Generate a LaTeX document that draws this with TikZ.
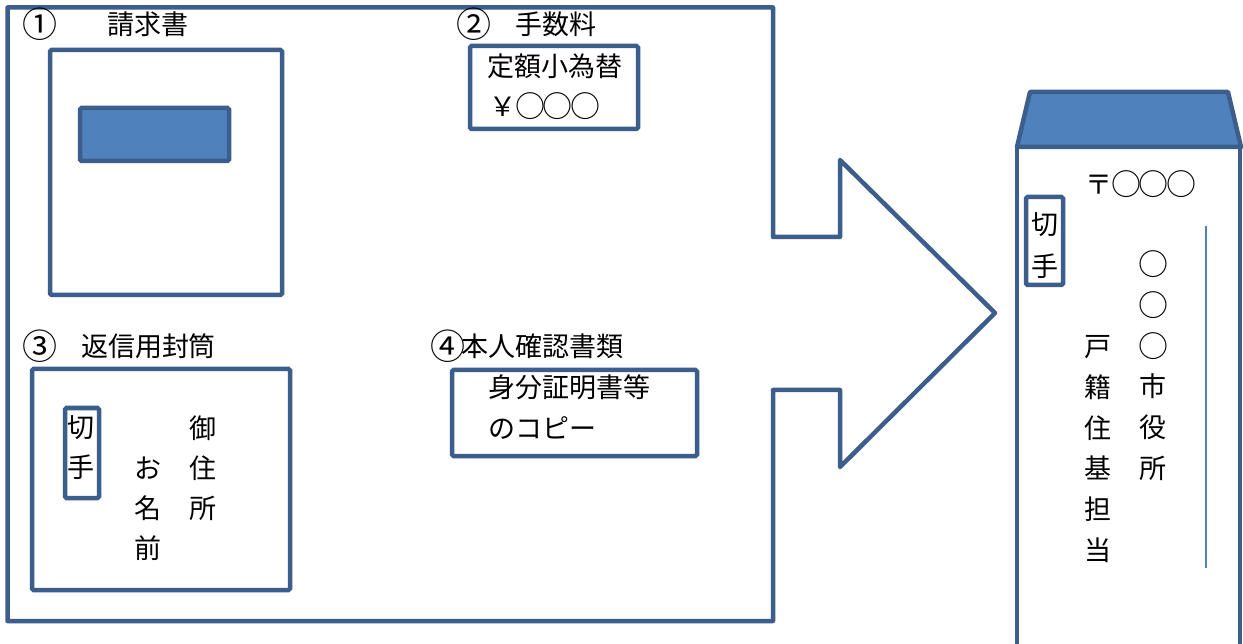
\documentclass[tikz,border=0pt]{standalone}
\usepackage{fontspec}
\newfontfamily\jpfont{Noto Sans CJK JP}
\definecolor{outl}{HTML}{3B5E8C}
\definecolor{fillb}{HTML}{4F81BD}
\newcommand\bigdigit[1]{\makebox[27pt]{\raisebox{-3pt}{\fontsize{35pt}{40pt}\selectfont #1}}}
\newcommand\bigring[1]{\makebox[27.5pt]{\raisebox{-1pt}{\fontsize{30pt}{40pt}\selectfont #1}}}
\tikzset{
  shapeline/.style={draw=outl, line width=4.5pt, line join=round},
  boxline/.style={draw=outl, line width=4.5pt, rounded corners=1.5pt},
  jp/.style={font=\jpfont\fontsize{27pt}{40pt}\selectfont, inner sep=0pt, text height=23.5pt, text depth=3.5pt, text=black},
}
\begin{document}
\begin{tikzpicture}[x=1pt,y=-1pt]
\useasboundingbox (0,0) rectangle (1243,644);
\fill[white] (0,0) rectangle (1243,644);
\clip (0,0) rectangle (1243,644);

% big arrow shape
\draw[shapeline, fill=white] (7.5,7.5) -- (773,7.5) -- (773,237) -- (840,237) -- (840,160) -- (995,313)
  -- (840,467) -- (840,390) -- (773,390) -- (773,621) -- (7.5,621) -- cycle;

% 1 invoice
\node[jp] (n1) at (40,25) {\bigdigit{①}};
\node[jp] (t1) at (148,25) {請求書};
\draw[boxline, fill=white] (50,50) rectangle (282,295);
\draw[boxline, fill=fillb] (80,108) rectangle (229,161);

% 2 fee
\node[jp] (n2) at (474,25) {\bigdigit{②}};
\node[jp] (t2) at (556,25) {手数料};
\draw[boxline, fill=white] (470,46) rectangle (638,129);
\node[jp] (fee1) at (555,67) {定額小為替};
\node[jp] (fee2) at (544,107) {￥\bigring{○}\bigring{○}\bigring{○}};

% 3 return envelope
\node[jp] (n3) at (40,347) {\bigdigit{③}};
\node[jp] (t3) at (148.5,347) {返信用封筒};
\draw[boxline, fill=white] (32,369) rectangle (290,590);
\draw[boxline] (65,408) rectangle (99,498);
\node[jp] (rs1) at (81,427) {切};
\node[jp] (rs2) at (81,467) {手};
\node[jp] (ad1) at (203,428) {御};
\node[jp] (ad2) at (203,468) {住};
\node[jp] (ad3) at (203,508) {所};
\node[jp] (nm1) at (148,468) {お};
\node[jp] (nm2) at (148,508) {名};
\node[jp] (nm3) at (148,548) {前};

% 4 ID documents
\node[jp] (t4) at (528.5,347) {\bigdigit{④}本人確認書類};
\draw[boxline, fill=white] (452,370) rectangle (697,456);
\node[jp] (id1) at (569.5,388) {身分証明書等};
\node[jp] (id2) at (542,428) {のコピー};

% envelope
\draw[shapeline, fill=white] (1017,147) rectangle (1240,700);
\draw[shapeline, fill=fillb] (1017,147) -- (1030,92) -- (1228,92) -- (1241,147) -- cycle;
\draw[fillb, line width=1.5pt] (1206,226) -- (1206,568);
\draw[boxline] (1026,197) rectangle (1063,285);
\node[jp] (es1) at (1044.5,225) {切};
\node[jp] (es2) at (1044.5,267) {手};
\node[jp] (zip) at (1140,185) {〒\bigring{○}\bigring{○}\bigring{○}};
\foreach \ch [count=\i] in {○,○,○}
  \node[jp] (city\i) at (1153,{265+40.6*(\i-1)}) {\bigring{\ch}};
\foreach \ch [count=\i from 4] in {市,役,所}
  \node[jp] (city\i) at (1153,{265+40.6*(\i-1)}) {\ch};
\foreach \ch [count=\i] in {戸,籍,住,基,担,当}
  \node[jp] (dept\i) at (1098,{347+40.6*(\i-1)}) {\ch};
\end{tikzpicture}
\end{document}
